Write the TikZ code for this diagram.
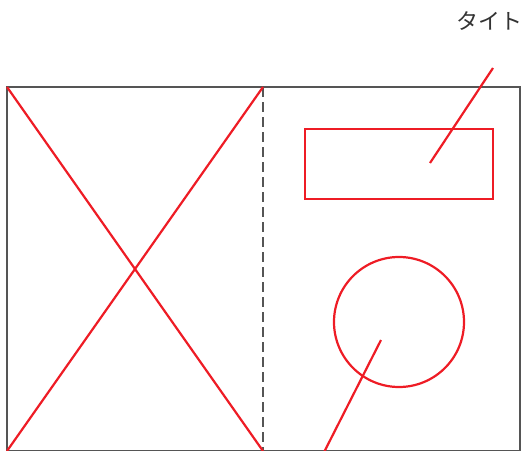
\documentclass[tikz,border=0pt]{standalone}
\usepackage{fontspec}
\newfontfamily\jpfont{Noto Sans CJK JP}
\definecolor{frgray}{HTML}{555555}
\definecolor{mkred}{HTML}{EE1C25}

\begin{document}
\begin{tikzpicture}[x=1pt,y=-1pt]
    \tikzset{frameline/.style={draw=frgray,line width=2.5pt}, redline/.style={draw=mkred,line width=2.2pt}, redbox/.style={redline,inner sep=0pt,outer sep=0pt}}
    \useasboundingbox (0,0) rectangle (522,450);
    \clip (0,0) rectangle (522,450);
    % page and fold
    \draw[frameline] (7,87) rectangle (520,451);
    \draw[frameline,dash pattern=on 10pt off 5pt] (263,87) -- (263,451);
    \draw[redline] (7,87) -- (263,451);
    \draw[redline] (263,87) -- (7,451);
    % title and photo areas
    \node[redbox,minimum width=188pt,minimum height=70pt] (titlebox) at (399,164) {};
    \node[redbox,circle,minimum size=130pt] (photo) at (399,322) {};
    \node[inner sep=0pt,font=\jpfont\fontsize{22}{22}\selectfont,text=black!80] (title) at (500,21) {タイトル};
    \coordinate (titletip) at (493,68);
    \coordinate (titlein) at (430,163);
    \coordinate (photoin) at (381,340);
    \coordinate (photoend) at (315,470);
    \draw[redline] (titletip) -- (titlein);
    \draw[redline] (photoin) -- (photoend);
\end{tikzpicture}
\end{document}
